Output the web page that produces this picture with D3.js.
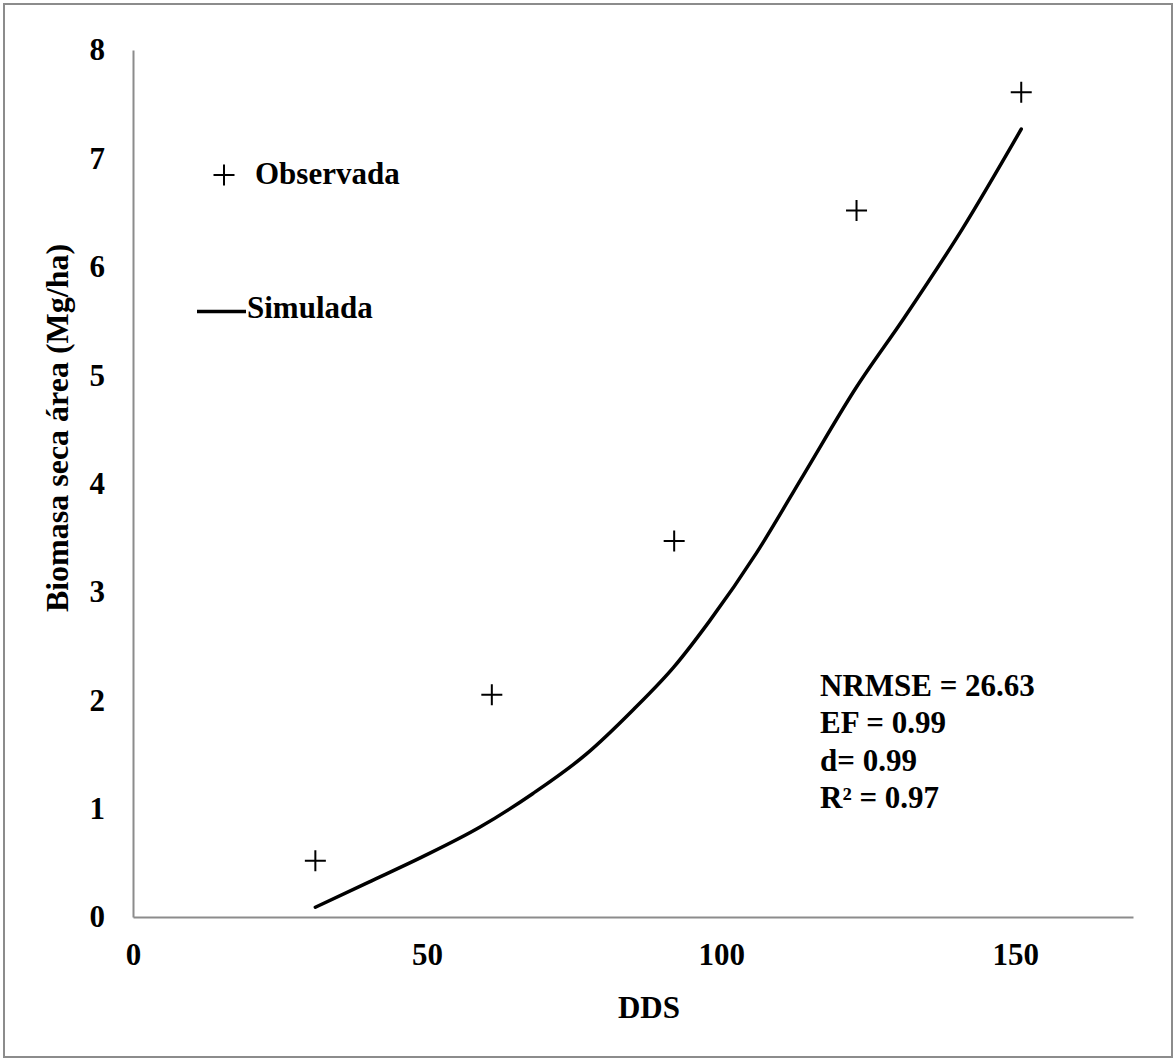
<!DOCTYPE html>
<html>
<head>
<meta charset="utf-8">
<script src="https://cdn.jsdelivr.net/npm/d3@7"></script>
<style>
    body { margin: 0; background: #fff; }
    svg text { font-family: "Liberation Serif", "Times New Roman", serif; font-weight: bold; fill: #000; }
    .axis path { stroke: #8c8c8c; stroke-width: 2; }
    .axis text { font-size: 31px; }
</style>
</head>
<body>
<div id="chart"></div>
<script>
// Observed points (DDS, biomass Mg/ha)
const obsDDS = [31, 61, 92, 123, 151];
const obsBiomass = [0.52, 2.05, 3.47, 6.52, 7.61];

// Simulated curve
const simDDS = [31, 40, 49, 59, 68, 77, 85, 92, 98, 106, 114, 123, 131, 141, 151];
const simBiomass = [0.09, 0.32, 0.55, 0.83, 1.14, 1.50, 1.91, 2.31, 2.73, 3.36, 4.08, 4.89, 5.52, 6.35, 7.27];

// Axis ticks
const xTicks = [0, 50, 100, 150];
const yTicks = [0, 1, 2, 3, 4, 5, 6, 7, 8];

// Stats box
const statLines = ["NRMSE = 26.63", "EF = 0.99", "d= 0.99", "R\u00B2 = 0.97"];

const W = 1176, H = 1059;
const margin = {top: 50, right: 43, bottom: 142, left: 133};
const width = W - margin.left - margin.right;
const height = H - margin.top - margin.bottom;

const root = d3.select("#chart")
    .append("svg")
    .attr("width", W)
    .attr("height", H);

// outer frame
root.append("rect")
    .attr("x", 4)
    .attr("y", 4)
    .attr("width", 1168)
    .attr("height", 1053)
    .attr("fill", "none")
    .attr("stroke", "#8c8c8c")
    .attr("stroke-width", 2);

const svg = root.append("g")
    .attr("transform", `translate(${margin.left},${margin.top})`);

// Scales
const xScale = d3.scaleLinear().domain([0, 170]).range([0, width]);
const yScale = d3.scaleLinear().domain([0, 8]).range([height, 0]);

// Axes (no tick marks, like the original)
svg.append("g")
    .attr("class", "axis")
    .attr("transform", `translate(0,${height})`)
    .call(d3.axisBottom(xScale).tickValues(xTicks).tickSize(0).tickPadding(26));

svg.append("g")
    .attr("class", "axis")
    .call(d3.axisLeft(yScale).tickValues(yTicks).tickSize(0).tickPadding(28));

// Axis titles
svg.append("text")
    .attr("text-anchor", "middle")
    .attr("x", 649 - margin.left)
    .attr("y", 1018 - margin.top)
    .style("font-size", "31px")
    .text("DDS");

svg.append("text")
    .attr("text-anchor", "middle")
    .attr("transform", `translate(${68 - margin.left},${428 - margin.top}) rotate(-90)`)
    .style("font-size", "32px")
    .text("Biomasa seca área (Mg/ha)");

// Simulated line
const simData = simDDS.map((d, i) => ({x: d, y: simBiomass[i]}));
const line = d3.line()
    .x(d => xScale(d.x))
    .y(d => yScale(d.y))
    .curve(d3.curveMonotoneX);

svg.append("path")
    .datum(simData)
    .attr("d", line)
    .attr("fill", "none")
    .attr("stroke", "#000")
    .attr("stroke-width", 3.5)
    .attr("stroke-linecap", "round");

// Observed crosses
function plus(sel, s) {
    sel.append("path")
        .attr("d", `M${-s},0H${s}M0,${-s}V${s}`)
        .attr("stroke", "#000")
        .attr("stroke-width", 2)
        .attr("fill", "none");
}

const obsData = obsDDS.map((d, i) => ({x: d, y: obsBiomass[i]}));
svg.selectAll(".obs")
    .data(obsData)
    .enter()
    .append("g")
    .attr("class", "obs")
    .attr("transform", d => `translate(${xScale(d.x)},${yScale(d.y)})`)
    .each(function() { plus(d3.select(this), 10.5); });

// Legend
const legend = root.append("g");
const legObs = legend.append("g").attr("transform", "translate(224,175)");
plus(legObs, 10.5);
legend.append("text")
    .attr("x", 255)
    .attr("y", 184)
    .style("font-size", "31px")
    .text("Observada");

legend.append("line")
    .attr("x1", 197)
    .attr("x2", 246)
    .attr("y1", 311.5)
    .attr("y2", 311.5)
    .attr("stroke", "#000")
    .attr("stroke-width", 3.5);
legend.append("text")
    .attr("x", 247)
    .attr("y", 318)
    .style("font-size", "31px")
    .text("Simulada");

// Stats
root.append("g")
    .selectAll("text")
    .data(statLines)
    .enter()
    .append("text")
    .attr("x", 820)
    .attr("y", (d, i) => 696 + i * 37.4)
    .style("font-size", "31px")
    .text(d => d);
</script>
</body>
</html>
